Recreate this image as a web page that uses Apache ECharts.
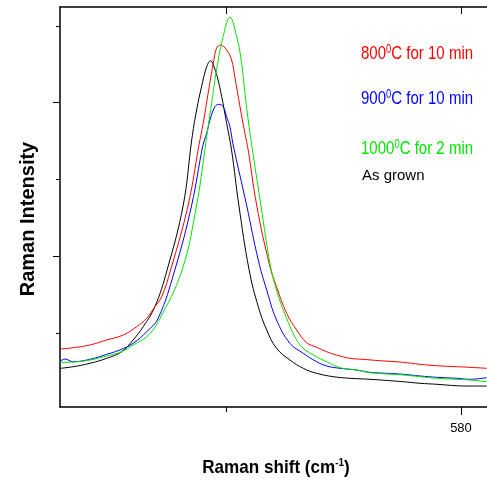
<!DOCTYPE html>
<html>
<head>
<meta charset="utf-8">
<script src="https://cdn.jsdelivr.net/npm/echarts@6/dist/echarts.min.js"></script>
<style>
  html, body { margin: 0; padding: 0; background: #fff; }
  #chart { width: 487px; height: 482px; }
</style>
</head>
<body>
<div id="chart"></div>
<script>
// Raman shift (cm-1) vs intensity (arb. units)
const red800 = [
  [562.91, 0.792], [563.45, 0.808], [564.17, 0.844], [564.88, 0.909], [565.59, 0.974],
  [566.16, 1.082], [566.59, 1.192], [566.94, 1.343], [567.23, 1.473], [567.61, 1.821],
  [568.36, 2.668], [568.82, 3.449], [569.00, 3.732], [569.21, 4.123], [569.43, 4.514],
  [569.57, 4.709], [569.74, 4.752], [570.00, 4.687], [570.21, 4.557], [570.35, 4.339],
  [570.57, 3.948], [570.78, 3.602], [570.92, 3.384], [571.28, 2.668], [571.83, 1.886],
  [572.13, 1.603], [572.56, 1.257], [572.99, 1.039], [573.41, 0.874], [573.84, 0.814],
  [574.27, 0.756], [574.69, 0.713], [575.26, 0.670], [575.83, 0.657], [576.54, 0.639],
  [577.54, 0.618], [578.25, 0.592], [578.96, 0.574], [579.82, 0.561], [580.38, 0.553],
  [581.10, 0.540]
]
const blue900 = [
  [562.91, 0.635], [563.10, 0.661], [563.45, 0.626], [564.17, 0.657], [564.88, 0.722],
  [565.45, 0.779], [566.01, 0.866], [566.59, 1.017], [567.08, 1.192], [567.79, 1.821],
  [568.51, 2.668], [568.99, 3.449], [569.15, 3.602], [569.29, 3.775],
  [569.50, 3.948], [569.67, 3.980], [569.85, 3.948], [570.00, 3.818], [570.14, 3.688],
  [570.28, 3.449], [570.85, 2.668], [571.35, 1.951], [571.71, 1.560],
  [572.13, 1.169], [572.70, 0.866], [573.27, 0.736], [573.84, 0.626], [574.27, 0.570],
  [574.84, 0.540], [575.55, 0.518], [576.12, 0.488], [576.83, 0.475], [577.54, 0.462],
  [578.25, 0.440], [578.96, 0.423], [579.82, 0.410], [580.38, 0.397], [581.10, 0.418]
]
const green1000 = [
  [562.91, 0.618], [563.45, 0.622], [564.17, 0.648], [564.88, 0.700], [565.52, 0.756],
  [566.01, 0.844], [566.59, 0.952], [567.08, 1.147], [568.10, 1.821],
  [568.72, 2.668], [569.07, 3.384], [569.21, 3.688], [569.36, 3.993],
  [569.57, 4.427], [569.85, 4.861], [570.14, 5.113], [570.43, 4.861], [570.64, 4.514],
  [570.78, 4.123], [570.92, 3.775], [571.07, 3.449], [571.46, 2.668], [571.86, 1.886],
  [572.13, 1.560], [572.56, 1.192], [573.13, 0.844], [573.70, 0.713], [574.27, 0.626],
  [574.84, 0.548], [575.55, 0.518], [576.12, 0.483], [577.54, 0.453], [578.25, 0.431],
  [578.96, 0.410], [579.82, 0.397], [580.38, 0.388], [581.10, 0.365]
]
const asGrown = [
  [562.91, 0.540], [563.45, 0.561], [564.17, 0.605], [564.88, 0.670], [565.52, 0.756],
  [566.01, 0.909], [566.44, 1.082], [566.94, 1.343], [567.46, 1.821],
  [568.15, 2.668], [568.51, 3.515], [568.72, 3.906],
  [568.93, 4.209], [569.15, 4.470], [569.32, 4.548], [569.43, 4.492], [569.60, 4.339],
  [569.79, 4.079], [570.00, 3.732], [570.21, 3.384], [570.52, 2.668],
  [570.96, 1.821], [571.35, 1.343], [571.71, 1.039], [572.13, 0.801], [572.70, 0.648],
  [573.27, 0.540], [573.84, 0.475], [574.55, 0.431], [575.26, 0.410], [576.12, 0.397],
  [577.54, 0.365], [578.25, 0.345], [578.96, 0.332], [579.82, 0.313], [580.38, 0.309],
  [581.10, 0.309]
]
const xMajorTicks = [580]
const xMinorTicks = [570]
const yMajorTicks = [2, 4]
const yMinorTicks = [1, 3, 5]

const sans = "'Liberation Sans', Arial, sans-serif"
const GREEN = '#00e600'

const chart = echarts.init(document.getElementById('chart'))

// condensed label with a superscript "0" (degree), origin at left / middle
function legendText(text, y, color) {
  return {
    type: 'text',
    x: 361,
    y: y,
    scaleX: 0.79,
    style: {
      text: text,
      fill: color,
      font: '19px ' + sans,
      verticalAlign: 'middle',
      rich: { s: { fill: color, fontSize: 12, fontFamily: sans, verticalAlign: 'top', padding: [0, 0, 9, 0] } }
    }
  }
}

const xBase = { type: 'value', min: 562.89, max: 581.11, splitLine: { show: false } }
const yBase = { type: 'value', min: 0.036, max: 5.247, splitLine: { show: false } }

chart.setOption({
  animation: false,
  grid: { left: 60, right: 0, top: 7, bottom: 75 },
  xAxis: [
    Object.assign({}, xBase, {
      position: 'bottom',
      axisLine: { lineStyle: { color: '#000', width: 1.5 } },
      axisTick: { customValues: xMajorTicks, length: 8, lineStyle: { color: '#000', width: 1 } },
      axisLabel: { customValues: xMajorTicks, color: '#000', fontSize: 13, fontFamily: sans, margin: 15 }
    }),
    Object.assign({}, xBase, {
      position: 'bottom',
      axisLine: { show: false },
      axisTick: { customValues: xMinorTicks, length: 5, lineStyle: { color: '#000', width: 1 } },
      axisLabel: { show: false }
    }),
    Object.assign({}, xBase, {
      position: 'top',
      axisLine: { lineStyle: { color: '#000', width: 1.5 } },
      axisTick: { customValues: xMinorTicks.concat(xMajorTicks), inside: true, length: 7, lineStyle: { color: '#000', width: 1 } },
      axisLabel: { show: false }
    })
  ],
  yAxis: [
    Object.assign({}, yBase, {
      position: 'left',
      axisLine: { show: true, lineStyle: { color: '#000', width: 1.5 } },
      axisTick: { show: true, customValues: yMajorTicks, length: 7, lineStyle: { color: '#000', width: 1 } },
      axisLabel: { show: false }
    }),
    Object.assign({}, yBase, {
      position: 'left',
      axisLine: { show: false },
      axisTick: { show: true, customValues: yMinorTicks, length: 4, lineStyle: { color: '#000', width: 1 } },
      axisLabel: { show: false }
    })
  ],
  graphic: [
    legendText('800{s|0}C for 10 min', 54, '#ff0000'),
    legendText('900{s|0}C for 10 min', 99, '#0000ff'),
    legendText('1000{s|0}C for 2 min', 149, GREEN),
    {
      type: 'text',
      x: 362,
      y: 176,
      style: { text: 'As grown', fill: '#000', font: '15px ' + sans, verticalAlign: 'middle' }
    },
    {
      type: 'text',
      x: 276,
      y: 468,
      scaleX: 0.9,
      style: {
        text: 'Raman shift (cm{s|-1})',
        fill: '#000',
        font: 'bold 19px ' + sans,
        align: 'center',
        verticalAlign: 'middle',
        rich: { s: { fill: '#000', fontSize: 11, fontWeight: 'bold', fontFamily: sans, verticalAlign: 'top', padding: [0, 0, 10, 0] } }
      }
    },
    {
      type: 'text',
      x: 28,
      y: 219,
      rotation: Math.PI / 2,
      style: {
        text: 'Raman Intensity',
        fill: '#000',
        font: 'bold 20px ' + sans,
        align: 'center',
        verticalAlign: 'middle'
      }
    }
  ],
  series: [
    { name: 'As grown', type: 'line', data: asGrown, color: '#000000' },
    { name: '800', type: 'line', data: red800, color: '#ff0000' },
    { name: '900', type: 'line', data: blue900, color: '#0000ff' },
    { name: '1000', type: 'line', data: green1000, color: GREEN }
  ].map(s => Object.assign(s, {
    showSymbol: false,
    smooth: 0.4,
    lineStyle: { width: 1 }
  }))
})
</script>
</body>
</html>
